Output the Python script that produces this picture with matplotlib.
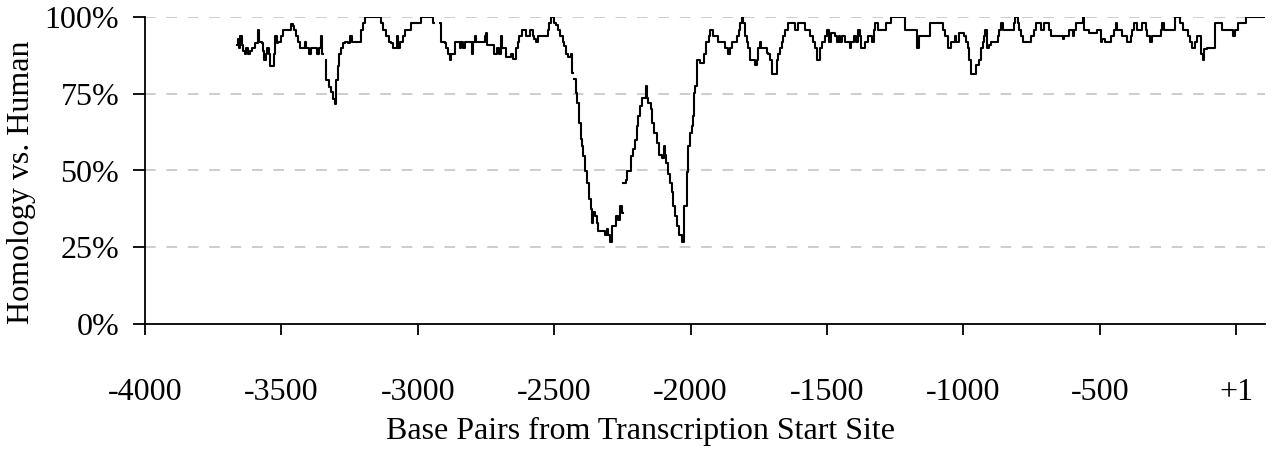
import numpy as np
import matplotlib
matplotlib.use("Agg")
import matplotlib.pyplot as plt

# posicion (pb desde el inicio de transcripcion) y homologia (%) leidas del grafico
# nan = hueco en la linea
pos = [-3662, -3658, -3655, -3650, -3646, -3641, -3634, -3628, -3622, -3614,
       -3606, -3596, -3586, -3581, -3572, -3566, -3563, -3558, -3552, -3546,
       -3542, -3530, -3527, -3523, -3516, -3511, -3503, -3495, -3470, -3465,
       -3458, -3452, -3446, -3440, -3432, -3420, -3414, -3408, -3400, -3392,
       -3380, -3370, -3362, -3356, -3350, -3346, -3338, -3335, -3325, -3318,
       -3312, -3302, -3298, -3293, -3287, -3281, -3275, -3265, -3255, -3248,
       -3240, -3207, -3201, -3192, -3133, -3128, -3115, -3107, -3097, -3091,
       -3077, -3074, -3066, -3054, -3048, -3023, -2987, -2944, -2940, -2920,
       -2916, -2901, -2895, -2889, -2881, -2877, -2865, -2846, -2842, -2835,
       -2828, -2810, -2803, -2799, -2791, -2785, -2761, -2755, -2750, -2745,
       -2738, -2719, -2710, -2703, -2695, -2692, -2677, -2660, -2650, -2640,
       -2633, -2628, -2618, -2603, -2590, -2579, -2573, -2566, -2561, -2524,
       -2518, -2512, -2500, -2493, -2487, -2479, -2469, -2463, -2457, -2448,
       -2440, -2436, -2433, -2431, -2426, -2420, -2415, -2408, -2403, -2399,
       -2393, -2387, -2381, -2372, -2365, -2360, -2356, -2350, -2344, -2338,
       -2320, -2314, -2308, -2302, -2295, -2289, -2281, -2273, -2265, -2259,
       -2251, -2249, -2247, -2237, -2232, -2220, -2212, -2204, -2198, -2192,
       -2185, -2179, -2162, -2160, -2155, -2146, -2140, -2133, -2124, -2115,
       -2106, -2098, -2093, -2090, -2084, -2075, -2069, -2063, -2057, -2049,
       -2041, -2033, -2024, -2014, -2008, -2002, -1996, -1990, -1986, -1983,
       -1978, -1965, -1950, -1943, -1934, -1928, -1916, -1898, -1873, -1861,
       -1855, -1849, -1831, -1824, -1818, -1812, -1806, -1800, -1794, -1788,
       -1782, -1763, -1757, -1751, -1747, -1743, -1721, -1715, -1708, -1702,
       -1684, -1678, -1672, -1666, -1660, -1653, -1641, -1617, -1605, -1580,
       -1562, -1550, -1543, -1537, -1525, -1519, -1507, -1501, -1492, -1484,
       -1472, -1462, -1457, -1453, -1445, -1435, -1417, -1410, -1401, -1392,
       -1386, -1380, -1374, -1362, -1349, -1333, -1327, -1322, -1313, -1282,
       -1264, -1212, -1172, -1168, -1162, -1129, -1123, -1080, -1074, -1068,
       -1056, -1044, -1032, -1027, -1017, -996, -990, -984, -978, -972,
       -954, -941, -935, -929, -923, -919, -915, -905, -899, -880,
       -874, -868, -862, -856, -813, -809, -801, -795, -789, -783,
       -758, -752, -740, -734, -715, -703, -685, -679, -636, -630,
       -612, -599, -593, -587, -563, -558, -540, -509, -497, -491,
       -479, -460, -448, -442, -436, -417, -399, -387, -381, -375,
       -362, -344, -332, -326, -317, -307, -277, -271, -265, -225,
       -204, -194, -175, -169, -160, -151, -145, -130, -127, -123,
       -118, -108, -78, -53, -50, -17, -13, -4, 8, 36,
       102]

homologia = [91, 93, 90, 94, 91, 89, 88, 90, 88, 89,
             90, 91.5, 96, 92, 91.5, 89, 86, 88, 90, 88,
             84, 84, 88, 94, 91.5, 92, 94, 96, 96, 97.8,
             97, 95.8, 94, 92, 90, 90, 92, 90, 88, 90,
             90, 88, 90, 94, 88, np.nan, 86, 79.4, 77.2, 75.6,
             73.4, 71.7, 79.4, 84, 88, 90, 91.5, 92, 91.5, 94,
             92, 95.8, 98, 100, 98, 96, 94, 92, 91.5, 90,
             94, 90, 92, 94, 96, 98, 100, 98, np.nan, 98,
             92, 91.5, 90, 88, 86, 88, 92, 90, 92, 90,
             92, 92, 88, 92, 94, 92, 92, 94, 95, 91,
             91, 88, 90, 88, 94, 90, 87, 88, 86.5, 90,
             92, 94, 96, 94, 96, 94, 93, 92, 94, 96,
             98, 100, 98, 97.5, 96, 94, 92, 90.5, 88, 87,
             88, 86.5, 81.8, np.nan, 79.7, 75.3, 72, 65.6, 60.2, 58,
             54.8, 49.7, 46, 40.7, 37.5, 33, 36.5, 35, 33, 30.4,
             30.4, 28.8, 31, 29, 26.6, 32, 32, 35, 34, 38.5,
             36, np.nan, 46, 47, 49.7, 54.8, 57, 60, 64.5, 67.8,
             71, 73.7, 77.5, 73.7, 72, 70, 65.6, 62.3, 59, 55,
             54, 58, 55, 52.6, 49, 46, 42.9, 38.5, 35.3, 32,
             28.8, 26.6, 38.5, 49.4, 58, 62.3, 64.5, 67.8, 75.3, 77.5,
             86, 85, 88, 92, 94, 95.8, 94, 92, 90, 88,
             90, 92, 94, 96, 98, 100, 98, 94, 92, 90,
             86, 84.3, 86, 90, 92, 90, 88.5, 88, 86, 81.6,
             86, 88, 90, 92, 94, 96, 98, 96, 98, 96,
             94, 92, 90, 86, 90, 92, 94, 96, 92, 95,
             94, 92, 94, 92, 94, 92, 90, 92, 94, 92,
             96, 94, 90, 92, 94, 92, 96, 98, 96, 98,
             100, 96, 96, 90, 94, 94, 98, 98, 96, 94,
             90, 92, 94, 92, 95, 94, 92, 90, 86, 81.6,
             84.3, 86, 90, 92, 94, 96, 90, 91, 92, 92,
             94, 96, 98, 96, 98, 100, 98, 96, 94, 92,
             92, 94, 96, 98, 96, 98, 96, 94, 93, 94,
             96, 94, 96, 98, 100, 96, 95, 96, 92, 93,
             92, 94, 96, 98, 96, 94, 92, 94, 96, 98,
             96, 98, 96, 94, 92, 94, 96, 98, 96, 100,
             98, 96, 94, 92, 90, 92, 94, 90, 88, 86,
             89.8, 90, 98, 98, 96, 96, 94, 96, 98, 100,
             100]

xticks = [-4000, -3500, -3000, -2500, -2000, -1500, -1000, -500, 0]
xtick_labels = ["-4000", "-3500", "-3000", "-2500", "-2000", "-1500", "-1000", "-500", "+1"]
yticks = [0, 25, 50, 75, 100]
ytick_labels = ["0%", "25%", "50%", "75%", "100%"]

plt.rcParams['font.family'] = ['Liberation Serif', 'DejaVu Serif']
plt.rcParams['font.size'] = 23

fig = plt.figure(figsize=(12.75, 4.51), dpi=100)
ax = fig.add_axes([145/1275, 1 - 323.7/451, 1120/1275, 306.4/451])

ax.plot(pos, homologia, color='black', lw=1.5, drawstyle='steps-post', zorder=3)

ax.set_xlim(-4000, 106)
ax.set_ylim(0, 100)
ax.set_xticks(xticks)
ax.set_xticklabels(xtick_labels)
ax.set_yticks(yticks)
ax.set_yticklabels(ytick_labels)

# rejilla horizontal discontinua
for v in yticks[1:]:
    ax.axhline(v, color='#c0c0c0', lw=1.1, dashes=(7, 7), zorder=1)

for lado in ['top', 'right']:
    ax.spines[lado].set_visible(False)
for lado in ['left', 'bottom']:
    ax.spines[lado].set_linewidth(1.3)
    ax.spines[lado].set_clip_on(False)

ax.tick_params(axis='x', direction='out', length=8, width=1.3, pad=31)
ax.tick_params(axis='y', direction='out', length=8.6, width=1.3, pad=10)

ax.set_xlabel("Base Pairs from Transcription Start Site")
ax.xaxis.set_label_coords((641 - 145) / 1120, -0.305)
ax.xaxis.label.set_va('top')
ax.set_ylabel("Homology vs. Human")
ax.yaxis.set_label_coords((22 - 145) / 1120, (323.7 - 182) / 306.4)
ax.yaxis.label.set_va('center')

fig.savefig("out.png", dpi=100)
